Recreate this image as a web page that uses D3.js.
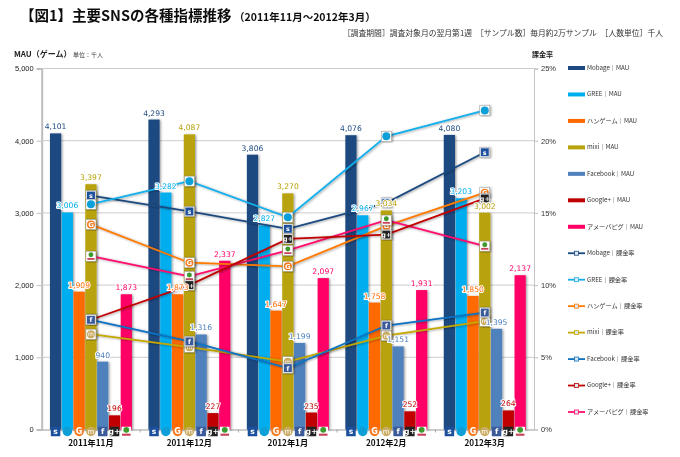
<!DOCTYPE html>
<html><head><meta charset="utf-8">
<script src="https://cdn.jsdelivr.net/npm/d3@7"></script>
<style>
html,body{margin:0;padding:0;background:#fff}
svg{display:block;font-family:"DejaVu Sans",sans-serif}
</style></head><body><svg id="c" width="680" height="457"></svg>
<script>
const months=["2011年11月","2011年12月","2012年1月","2012年2月","2012年3月"];
const names=["Mobage","GREE","ハンゲーム","mixi","Facebook","Google+","アメーバピグ"];
const colors=["#1c4a80","#00aeef","#ff6a00","#b8a208","#4f81bd","#c00000","#ff0066"];
const lineColors=["#1c4a80","#12aeea","#ff7a00","#c4a800","#0a72c4","#c00000","#ff0a6c"];
const mauMobage=[4101,4293,3806,4076,4080];
const mauGree=[3006,3282,2827,2967,3203];
const mauHangame=[1909,1873,1647,1758,1850];
const mauMixi=[3397,4087,3270,3034,3002];
const mauFacebook=[940,1316,1199,1151,1395];
const mauGoogle=[196,227,235,252,264];
const mauAmeba=[1873,2337,2097,1931,2137];
const rateMobage=[16.2,15.1,13.9,15.7,19.2];
const rateGree=[15.6,17.2,14.7,20.3,22.1];
const rateHangame=[14.2,11.55,11.3,14.1,16.4];
const rateMixi=[6.6,5.7,4.7,6.5,7.5];
const rateFacebook=[7.6,6.1,4.25,7.2,8.1];
const rateGoogle=[7.6,10.0,13.2,13.5,16.0];
const rateAmeba=[12.0,10.6,12.4,14.5,12.7];
const leftTicks=[0,1000,2000,3000,4000,5000];
const rightTicks=[0,5,10,15,20,25];
const mau=[mauMobage,mauGree,mauHangame,mauMixi,mauFacebook,mauGoogle,mauAmeba];
const rate=[rateMobage,rateGree,rateHangame,rateMixi,rateFacebook,rateGoogle,rateAmeba];

const svg=d3.select("#c");
const JP='"Noto Sans CJK JP","DejaVu Sans",sans-serif';
const defs=svg.append("defs");
const sh=defs.append("filter").attr("id","sh").attr("x","-30%").attr("y","-10%").attr("width","160%").attr("height","120%");
sh.append("feDropShadow").attr("dx",1.2).attr("dy",0.6).attr("stdDeviation",0.9).attr("flood-color","#000").attr("flood-opacity",0.4);
const soft=defs.append("filter").attr("id","soft");
soft.append("feGaussianBlur").attr("stdDeviation",0.3);

const L=41.7,R=534,T=68.5,B=429.5;
const x=d3.scaleBand().domain(months).range([L,R]);
const bx=d3.scaleBand().domain(d3.range(7)).range([0,x.bandwidth()]).paddingOuter(0.7).paddingInner(0.05);
const y=d3.scaleLinear().domain([0,5000]).range([B,T]);
const yr=d3.scaleLinear().domain([0,25]).range([B,T]);
const root=svg.append("g").attr("filter","url(#soft)");

// Titles
root.append("text").attr("x",20).attr("y",21).attr("font-family",JP).attr("font-weight",700).attr("font-size",14.5).attr("fill","#111").text("【図1】主要SNSの各種指標推移");
root.append("text").attr("x",234).attr("y",21).attr("font-family",JP).attr("font-weight",700).attr("font-size",10.5).attr("fill","#111").text("（2011年11月～2012年3月）");
root.append("text").attr("x",663).attr("y",36).attr("text-anchor","end").attr("font-family",JP).attr("font-size",7.8).attr("fill","#333").text("［調査期間］調査対象月の翌月第1週　［サンプル数］毎月約2万サンプル　［人数単位］千人");
root.append("text").attr("x",14).attr("y",57).attr("font-family",JP).attr("font-weight",700).attr("font-size",8).attr("fill","#222").text("MAU（ゲーム）");
root.append("text").attr("x",73).attr("y",57).attr("font-family",JP).attr("font-size",6).attr("fill","#444").text("単位：千人");
root.append("text").attr("x",532).attr("y",57).attr("font-family",JP).attr("font-weight",700).attr("font-size",7).attr("fill","#222").text("課金率");

// Grid & axes
const gl=d3.axisLeft(y).tickValues(leftTicks).tickFormat(d3.format(",")).tickSize(5);
const ga=root.append("g").attr("transform",`translate(${L},0)`).call(gl);
ga.select(".domain").attr("stroke","#bdbdbd").attr("stroke-width",2);
ga.selectAll("line").attr("stroke","#bdbdbd");
ga.selectAll("text").attr("fill","#222").attr("font-size",7.5).attr("x",-8);
root.append("g").selectAll("line").data(leftTicks.slice(1)).join("line")
 .attr("x1",L).attr("x2",R).attr("y1",d=>y(d)).attr("y2",d=>y(d)).attr("stroke","#cccccc").attr("stroke-width",1);
const gr=d3.axisRight(yr).tickValues(rightTicks).tickFormat(d=>d+"%").tickSize(4);
const gb=root.append("g").attr("transform",`translate(${R},0)`).call(gr);
gb.select(".domain").attr("stroke","#c4c4c4").attr("stroke-width",1);
gb.selectAll("line").attr("stroke","#bdbdbd");
gb.selectAll("text").attr("fill","#333").attr("font-size",7.5).attr("x",7);
const gx=d3.axisBottom(x).tickSize(0).tickFormat("");
const gc=root.append("g").attr("transform",`translate(0,${B})`).call(gx);
gc.select(".domain").attr("stroke","#bdbdbd").attr("stroke-width",1.5);
gc.selectAll("text").remove();
root.append("g").selectAll("line").data(months.slice(1)).join("line")
 .attr("x1",d=>x(d)).attr("x2",d=>x(d)).attr("y1",B).attr("y2",B+3).attr("stroke","#aaa");
root.append("g").selectAll("text").data(months).join("text")
 .attr("x",d=>x(d)+x.bandwidth()/2).attr("y",446).attr("text-anchor","middle")
 .attr("font-family",JP).attr("font-weight",700).attr("font-size",8.2).attr("fill","#111").text(d=>d);

// Bars
const cx=(m,i)=>x(months[m])+bx(i)+bx.bandwidth()/2;
mau.forEach((s,i)=>{
  root.append("g").attr("filter","url(#sh)").selectAll("rect").data(s).join("rect")
   .attr("x",(d,m)=>x(months[m])+bx(i)).attr("width",bx.bandwidth())
   .attr("y",d=>y(d)).attr("height",d=>B-y(d)).attr("fill",colors[i]);
});

// Icon glyphs
function icon(g,i,s){
  const r=s/2;
  if(i===1){g.append("circle").attr("r",r).attr("fill","#0f9fd8");return;}
  if(i===2){g.append("circle").attr("r",r).attr("fill","#f47b20");
    g.append("text").attr("text-anchor","middle").attr("dy",s*0.3).attr("font-size",s*0.85).attr("font-weight",700).attr("fill","#fff").text("G");return;}
  if(i===3){g.append("circle").attr("r",r).attr("fill","#c9ab62");
    g.append("text").attr("text-anchor","middle").attr("dy",s*0.24).attr("font-size",s*0.75).attr("fill","#fff").text("m");return;}
  if(i===6){
    g.append("rect").attr("x",-r).attr("y",-r).attr("width",s).attr("height",s).attr("fill","#fff");
    g.append("circle").attr("cy",-r*0.35).attr("r",r*0.62).attr("fill","#3d9a2d");
    g.append("rect").attr("x",-r*0.9).attr("y",r*0.45).attr("width",r*1.8).attr("height",r*0.45).attr("fill","#c8435a");
    return;}
  const bg={0:"#1c4f9c",4:"#3b5a9a",5:"#222"}[i];
  g.append("rect").attr("x",-r).attr("y",-r).attr("width",s).attr("height",s).attr("fill",bg);
  g.append("text").attr("text-anchor","middle").attr("dy",s*0.3).attr("font-size",s*0.8).attr("font-weight",700).attr("fill","#fff").text({0:"s",4:"f",5:"g+"}[i]);
}
// Icons at the bar feet
mau.forEach((s,i)=>{
  s.forEach((d,m)=>{
    const g=root.append("g").attr("transform",`translate(${cx(m,i)},${B+2})`);
    icon(g,i,9.5);
  });
});

// Rate lines
const lineGen=d3.line().x((d,m)=>cx(m,3)).y(d=>yr(d));
const order=[0,1,2,6,5,3,4];
order.forEach(i=>{
  root.append("path").datum(rate[i]).attr("d",lineGen).attr("fill","none")
   .attr("stroke",lineColors[i]).attr("stroke-width",1.8).attr("filter","url(#sh)");
});
order.forEach(i=>{
  rate[i].forEach((d,m)=>{
    const g=root.append("g").attr("transform",`translate(${cx(m,3)},${yr(d)})`);
    g.append("rect").attr("x",-5).attr("y",-5).attr("width",10).attr("height",10).attr("fill","#fff").attr("stroke","#999").attr("stroke-width",0.5).attr("filter","url(#sh)");
    icon(g,i,8);
  });
});

// Value labels
mau.forEach((s,i)=>{
  root.append("g").selectAll("text").data(s).join("text")
   .attr("x",(d,m)=>cx(m,i)).attr("y",d=>y(d)-4).attr("text-anchor","middle")
   .attr("font-size",7.6).attr("fill",colors[i])
   .attr("stroke","#fff").attr("stroke-width",2).attr("paint-order","stroke")
   .text(d3.format(","));
});

// Legend
const legendLabels=[...names.map(n=>n+"｜MAU"),...names.map(n=>n+"｜課金率")];
const ly=d3.scalePoint().domain(d3.range(14)).range([68,412]);
const lg=root.append("g").selectAll("g").data(legendLabels).join("g").attr("transform",(d,k)=>`translate(568,${ly(k)})`);
lg.each(function(d,k){
  const g=d3.select(this),i=k%7;
  if(k<7){g.append("rect").attr("y",-2).attr("width",17).attr("height",4).attr("fill",colors[i]);}
  else{
    g.append("line").attr("x2",17).attr("stroke",lineColors[i]).attr("stroke-width",1.8);
    g.append("rect").attr("x",6.5).attr("y",-2).attr("width",4).attr("height",4).attr("fill","#dfe8f0").attr("stroke",lineColors[i]).attr("stroke-width",0.8);
  }
  g.append("text").attr("x",19).attr("y",1.8).attr("font-family",JP).attr("font-size",6.2).attr("fill","#333").text(d);
});
</script></body></html>
